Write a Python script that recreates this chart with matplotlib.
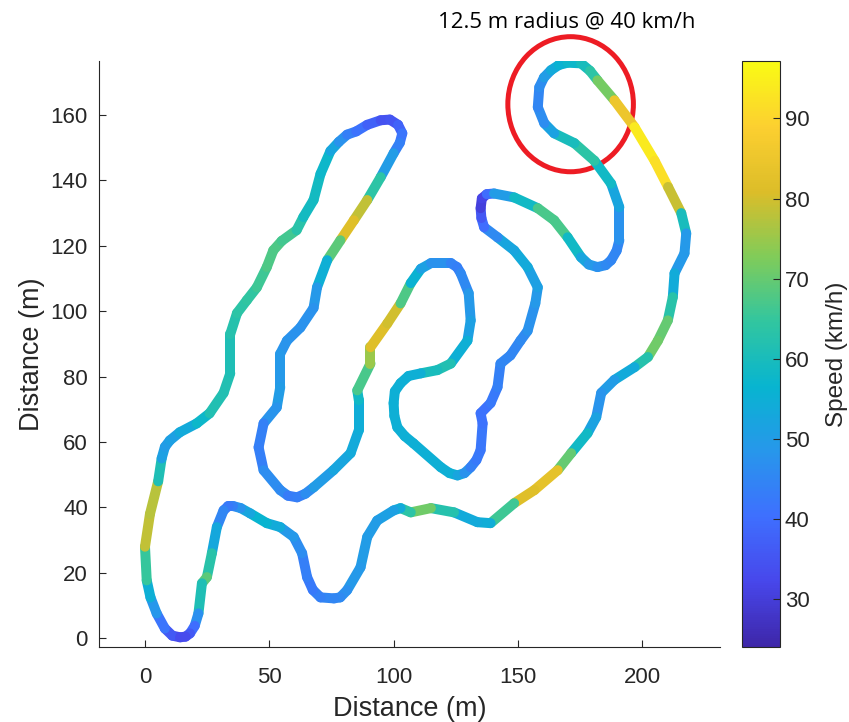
import matplotlib
matplotlib.use("Agg")
import matplotlib.pyplot as plt
import numpy as np
from matplotlib.collections import LineCollection
from matplotlib.colors import LinearSegmentedColormap, Normalize
from matplotlib.patches import Ellipse

# track centre line (m), traced round the loop, and speed (km/h) at each point
track_x = [14.1, 11.0, 8.0, 4.7, 2.2, 0.7, 0.0, 2.0, 5.3, 6.7, 8.0, 10.0, 14.0, 20.8,
           26.0, 31.6, 34.3, 34.3, 37.0, 41.0, 45.0, 49.0, 51.6, 55.0, 61.0, 63.7, 67.8,
           70.6, 74.6, 78.0, 81.3, 85.0, 89.4, 94.8, 98.5, 101.8, 103.5, 102.5, 100.0,
           94.8, 89.4, 84.0, 78.6, 73.3, 69.2, 67.8, 62.5, 57.1, 54.4, 54.4, 53.0, 47.7,
           45.7, 47.7, 54.4, 57.5, 61.2, 64.5, 67.9, 75.8, 82.7, 86.0, 86.0, 85.4, 90.7,
           90.7, 97.5, 102.8, 106.9, 111.0, 115.0, 123.0, 125.5, 127.0, 130.2, 131.0,
           129.7, 123.0, 117.6, 110.9, 106.0, 102.8, 100.5, 100.0, 100.3, 101.5, 104.5,
           108.0, 119.0, 122.5, 125.7, 128.5, 131.0, 133.3, 135.0, 135.8, 135.0, 139.0,
           141.8, 143.0, 147.0, 151.0, 153.9, 157.0, 158.0, 153.9, 148.5, 141.8, 136.4,
           135.3, 135.0, 135.5, 137.5, 140.4, 148.5, 158.0, 164.6, 170.0, 175.4, 178.5,
           182.0, 185.3, 187.5, 189.7, 190.8, 190.8, 187.5, 180.8, 172.7, 164.6, 160.6,
           158.0, 158.6, 160.5, 163.3, 166.5, 170.0, 175.4, 179.0, 182.0, 188.8, 196.9,
           205.0, 210.4, 215.7, 217.7, 217.0, 213.0, 212.3, 210.3, 206.3, 202.3, 196.9,
           188.8, 183.5, 181.5, 178.0, 171.4, 166.0, 156.6, 148.5, 139.0, 133.7, 124.3,
           115.0, 106.9, 102.8, 100.0, 93.4, 89.4, 86.7, 81.3, 78.5, 76.0, 70.6, 67.5,
           65.2, 63.2, 59.8, 54.4, 49.0, 42.3, 38.5, 35.6, 33.5, 31.6, 28.9, 26.9, 24.9,
           22.9, 21.5, 20.0, 18.1, 16.3, 14.1]
track_y = [0.3, 0.8, 3.0, 7.6, 12.5, 17.7, 28.0, 38.0, 48.0, 55.0, 58.5, 60.5, 63.0, 65.7,
           68.8, 75.0, 81.0, 93.0, 99.4, 103.4, 107.3, 113.5, 118.6, 121.5, 124.8, 128.8,
           134.0, 142.0, 149.0, 151.8, 154.0, 155.0, 157.0, 158.4, 158.6, 157.0, 154.4,
           151.5, 148.3, 141.0, 134.0, 127.8, 121.7, 115.6, 107.3, 101.0, 95.0, 91.0,
           87.0, 76.8, 70.6, 65.7, 58.4, 51.4, 45.3, 43.6, 43.1, 44.2, 46.2, 51.4, 56.6,
           63.6, 72.8, 75.8, 84.0, 89.0, 96.3, 102.4, 108.6, 113.0, 114.7, 114.7, 113.5,
           111.6, 105.5, 97.2, 91.0, 84.0, 82.0, 81.0, 80.2, 78.0, 75.5, 71.9, 68.0,
           64.5, 61.8, 59.6, 52.3, 50.5, 49.8, 50.5, 52.3, 54.5, 57.5, 65.7, 68.8, 71.9,
           76.8, 84.0, 86.5, 91.0, 94.0, 102.4, 107.3, 113.5, 118.6, 122.6, 125.7, 128.5,
           131.5, 134.5, 135.8, 136.0, 134.8, 131.5, 127.8, 122.6, 116.5, 114.3, 113.5,
           114.1, 115.6, 118.5, 121.7, 131.8, 139.0, 146.0, 151.4, 154.4, 157.5, 162.4,
           168.5, 171.5, 173.7, 175.3, 176.0, 175.8, 173.5, 170.6, 164.5, 156.3, 146.0,
           138.0, 130.0, 123.8, 117.7, 111.6, 104.3, 97.2, 91.0, 86.0, 82.9, 79.0, 75.0,
           67.6, 62.7, 56.6, 51.4, 45.3, 41.3, 35.2, 35.5, 38.5, 39.8, 38.5, 39.8, 39.1,
           36.0, 31.0, 21.7, 14.7, 12.5, 12.2, 12.5, 14.8, 18.7, 26.0, 31.0, 34.0, 35.2,
           38.2, 39.8, 40.4, 40.4, 39.1, 34.0, 26.0, 18.7, 16.8, 7.6, 3.8, 1.5, 0.5, 0.3]
speed = [32, 34, 38, 45, 52, 58, 72, 85, 70, 52, 50, 50, 52, 55,
         60, 63, 60, 62, 63, 64, 65, 67, 68, 67, 66, 60, 58,
         60, 55, 50, 45, 42, 40, 35, 34, 36, 40, 43, 45,
         55, 72, 85, 78, 60, 50, 48, 47, 48, 48, 50, 50, 46,
         42, 45, 48, 44, 42, 45, 48, 52, 53, 54, 55, 62, 72,
         78, 85, 75, 60, 52, 50, 45, 44, 43, 48, 50,
         52, 58, 65, 55, 55, 55, 55, 55, 55, 55, 55,
         55, 55, 55, 55, 50, 45, 43, 42, 42, 40, 42,
         43, 45, 45, 45, 47, 48, 50, 52, 55, 50, 42,
         38, 33, 28, 35, 45, 55, 62, 72, 62, 55, 50,
         48, 46, 45, 45, 45, 50, 55, 62, 65, 55, 48,
         45, 45, 48, 52, 55, 57, 58, 62, 65, 78, 92,
         96, 88, 70, 50, 48, 50, 58, 68, 72, 70, 55,
         52, 48, 48, 55, 62, 78, 88, 75, 57, 52, 55,
         70, 72, 55, 52, 50, 50, 50, 48, 46, 45, 45, 43,
         42, 45, 48, 50, 58, 55, 50, 45, 43, 42, 48, 58, 68,
         70, 52, 42, 38, 34, 32]

x_ticks = [0, 50, 100, 150, 200]
y_ticks = [0, 20, 40, 60, 80, 100, 120, 140, 160]
cbar_ticks = [30, 40, 50, 60, 70, 80, 90]

# approximate MATLAB parula
parula = LinearSegmentedColormap.from_list("parula", [
    (0.2422, 0.1504, 0.6603), (0.2803, 0.2782, 0.9221), (0.2440, 0.4358, 0.9988),
    (0.1540, 0.5902, 0.9218), (0.0297, 0.7082, 0.8163), (0.1938, 0.7758, 0.6251),
    (0.5044, 0.7993, 0.3480), (0.8634, 0.7406, 0.1596), (0.9892, 0.8136, 0.1885),
    (0.9769, 0.9839, 0.0805)])

plt.rcParams['font.family'] = ['Liberation Sans', 'DejaVu Sans']
grey = (0.15, 0.15, 0.15)

fig = plt.figure(figsize=(8.49, 7.22), dpi=100)
ax = fig.add_axes([0.1166, 0.1035, 0.7315, 0.8124])
cax = fig.add_axes([0.8736, 0.1035, 0.0451, 0.8124])

pts = np.column_stack([track_x, track_y])
segs = np.stack([pts[:-1], pts[1:]], axis=1)
sp = np.array(speed, dtype=float)
norm = Normalize(vmin=24, vmax=97.2)
lc = LineCollection(segs, cmap=parula, norm=norm, linewidths=7.2,
                    capstyle='round', joinstyle='round')
lc.set_array((sp[:-1] + sp[1:]) / 2)
ax.add_collection(lc)

ax.add_patch(Ellipse((171.2, 163.3), 50.5, 41.3, fill=False, edgecolor=(0.93, 0.11, 0.14),
                     linewidth=3.6, clip_on=False))
ax.text(169.5, 188.3, "12.5 m radius @ 40 km/h", ha='center', va='center',
        fontsize=16, family=['Open Sans', 'DejaVu Sans'], color='black', clip_on=False)

ax.set_xlim(-18.5, 231.3)
ax.set_ylim(-2.75, 176.6)
ax.set_xticks(x_ticks)
ax.set_yticks(y_ticks)
for s in ['top', 'right']:
    ax.spines[s].set_visible(False)
for s in ['left', 'bottom']:
    ax.spines[s].set_color(grey)
ax.tick_params(direction='in', length=5, colors=grey, labelsize=16)
ax.tick_params(axis='x', pad=14)
ax.tick_params(axis='y', pad=8)
ax.set_xlabel("Distance (m)", fontsize=19.5, color=grey, labelpad=6)
ax.set_ylabel("Distance (m)", fontsize=19.5, color=grey, labelpad=4)

cb = fig.colorbar(lc, cax=cax)
cb.set_ticks(cbar_ticks)
cb.ax.tick_params(direction='in', length=5, colors=grey, labelsize=16)
cb.outline.set_edgecolor(grey)
cb.set_label("Speed (km/h)", fontsize=17.5, color=grey, labelpad=12)

fig.savefig("out.png", dpi=100)
